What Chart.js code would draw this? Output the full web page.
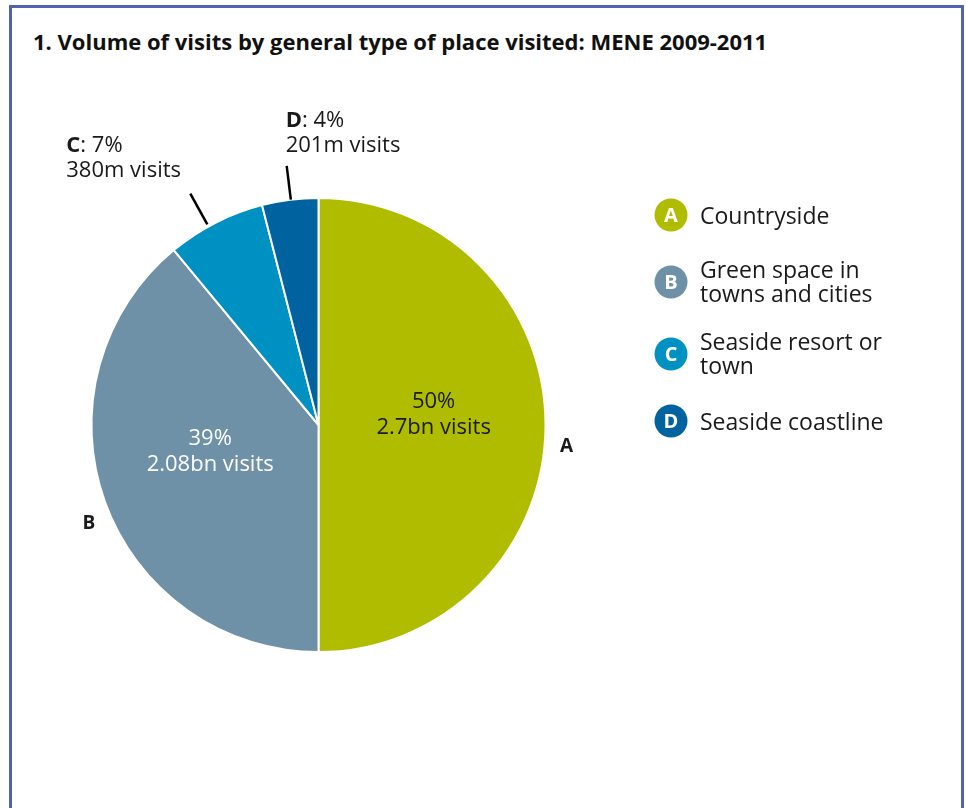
<!DOCTYPE html>
<html>
<head>
<meta charset="utf-8">
<title>Volume of visits by general type of place visited</title>
<script src="https://cdn.jsdelivr.net/npm/chart.js@4.4.1/dist/chart.umd.min.js"></script>
<style>
  html, body { margin: 0; padding: 0; background: #fff; }
  #wrap { position: relative; width: 966px; height: 808px; overflow: hidden; }
  #frame {
    position: absolute; left: 9px; top: 5px; width: 955px; height: 900px;
    border: 3px solid #5263ab; box-sizing: border-box;
  }
  #title {
    position: absolute; left: 33px; top: 26px; margin: 0;
    font: bold 22px "Open Sans", sans-serif; color: #111;
  }
  #chart { position: absolute; left: 0; top: 0; }
</style>
</head>
<body>
<div id="wrap">
  <div id="frame"></div>
  <h1 id="title">1. Volume of visits by general type of place visited: MENE 2009-2011</h1>
  <canvas id="chart" width="966" height="808"></canvas>
</div>
<script>
// share of visits (%), clockwise from 12 o'clock
var letters = ['A', 'B', 'C', 'D'];
var places = [['Countryside'], ['Green space in', 'towns and cities'], ['Seaside resort or', 'town'], ['Seaside coastline']];
var shares = [50, 39, 7, 4];
var visitLabels = ['2.7bn visits', '2.08bn visits', '380m visits', '201m visits'];
var colours = ['rgb(176, 188, 0)', 'rgb(110, 145, 168)', 'rgb(0, 145, 195)', 'rgb(0, 98, 158)'];

var FONT = '"Open Sans", sans-serif';
var INK = '#1a1a1a';

// where each slice gets its text: 'inside' = share + visits on the slice,
// 'callout' = leader line out to a label above the pie (angles clockwise from top)
var placing = [
  { mode: 'inside', at: [84, 0.51], colour: INK, letterAt: [94.9, 1.097] },
  { mode: 'inside', at: [256.8, 0.49], colour: '#fff', letterAt: [246.8, 1.10] },
  { mode: 'callout', angle: 331, lineFrom: 1.01, lineTo: 1.165, dx: -124, dy: -42 },
  { mode: 'callout', angle: 353, lineFrom: 1.0, lineTo: 1.15, dx: -1, dy: -39 }
];
var legendRows = [215, 282, 354, 421];

function polar(arc, deg, frac) {
  var a = deg * Math.PI / 180 - Math.PI / 2;
  return { x: arc.x + Math.cos(a) * arc.outerRadius * frac, y: arc.y + Math.sin(a) * arc.outerRadius * frac };
}

var labelPlugin = {
  id: 'sliceLabels',
  afterDraw: function(chart) {
    var ctx = chart.ctx;
    var arcs = chart.getDatasetMeta(0).data;
    ctx.save();
    arcs.forEach(function(arc, i) {
      var p = placing[i];
      var pct = shares[i] + '%';
      if (p.mode === 'inside') {
        var pt = polar(arc, p.at[0], p.at[1]);
        ctx.fillStyle = p.colour;
        ctx.font = '22px ' + FONT;
        ctx.textAlign = 'center';
        ctx.textBaseline = 'alphabetic';
        ctx.fillText(pct, pt.x, pt.y - 5);
        ctx.fillText(visitLabels[i], pt.x, pt.y + 21);
        var lp = polar(arc, p.letterAt[0], p.letterAt[1]);
        ctx.fillStyle = INK;
        ctx.font = 'bold 19px ' + FONT;
        ctx.textBaseline = 'middle';
        ctx.fillText(letters[i], lp.x, lp.y);
      } else {
        var p0 = polar(arc, p.angle, p.lineFrom);
        var p1 = polar(arc, p.angle, p.lineTo);
        ctx.strokeStyle = '#000';
        ctx.lineWidth = 2.5;
        ctx.beginPath();
        ctx.moveTo(p0.x, p0.y);
        ctx.lineTo(p1.x, p1.y);
        ctx.stroke();
        var tx = p1.x + p.dx, ty = p1.y + p.dy;
        ctx.fillStyle = INK;
        ctx.textAlign = 'left';
        ctx.textBaseline = 'alphabetic';
        ctx.font = 'bold 22px ' + FONT;
        ctx.fillText(letters[i], tx, ty);
        var w = ctx.measureText(letters[i]).width;
        ctx.font = '22px ' + FONT;
        ctx.fillText(': ' + pct, tx + w, ty);
        ctx.fillText(visitLabels[i], tx, ty + 25);
      }
    });

    // legend: lettered discs with the place names
    letters.forEach(function(l, i) {
      var cy = legendRows[i];
      var cx = 671;
      ctx.fillStyle = colours[i];
      ctx.beginPath();
      ctx.arc(cx, cy, 16.5, 0, Math.PI * 2);
      ctx.fill();
      ctx.fillStyle = '#fff';
      ctx.font = 'bold 20px ' + FONT;
      ctx.textAlign = 'center';
      ctx.textBaseline = 'middle';
      ctx.fillText(l, cx, cy + 1);
      ctx.fillStyle = INK;
      ctx.font = '23px ' + FONT;
      ctx.textAlign = 'left';
      ctx.textBaseline = 'alphabetic';
      var lines = places[i];
      var first = lines.length === 1 ? cy + 9 : cy - 4;
      lines.forEach(function(t, k) {
        ctx.fillText(t, 700, first + k * 24);
      });
    });
    ctx.restore();
  }
};

new Chart(document.getElementById('chart'), {
  type: 'pie',
  data: {
    labels: letters,
    datasets: [{
      data: shares,
      backgroundColor: colours,
      borderColor: '#fff',
      borderWidth: 2
    }]
  },
  options: {
    responsive: false,
    animation: false,
    events: [],
    layout: { padding: { left: 90, top: 197, right: 419, bottom: 155 } },
    plugins: {
      legend: { display: false },
      tooltip: { enabled: false },
      title: { display: false }
    }
  },
  plugins: [labelPlugin]
});
</script>
</body>
</html>
